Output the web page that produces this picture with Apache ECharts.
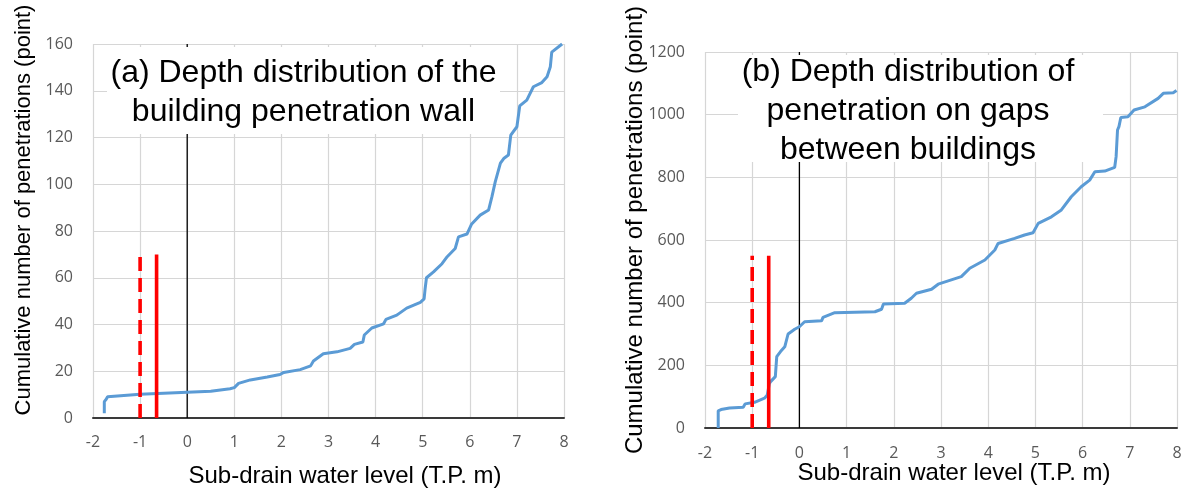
<!DOCTYPE html>
<html>
<head>
<meta charset="utf-8">
<script src="https://cdn.jsdelivr.net/npm/echarts@6/dist/echarts.min.js"></script>
<style>
html,body{margin:0;padding:0;background:#fff;}
#c{width:1185px;height:499px;}
</style>
</head>
<body>
<div id="c"></div>
<script>
// ---- data ----
const levelA = [-1.76,-1.76,-1.72,-1.69,-1.0,0,0.5,0.91,1.0,1.09,1.34,1.7,1.97,2.05,2.4,2.62,2.68,2.89,3.18,3.46,3.55,3.73,3.76,3.92,4.17,4.22,4.45,4.66,4.95,5.03,5.05,5.08,5.23,5.41,5.52,5.69,5.76,5.94,6.04,6.22,6.4,6.47,6.54,6.65,6.72,6.82,6.87,7.0,7.06,7.21,7.35,7.53,7.64,7.71,7.74,7.96];
const countA = [2,7,8,9.1,10.2,11,11.4,12.5,13,14.8,16.3,17.5,18.6,19.5,20.7,22.3,24.4,27.5,28.3,29.8,31.5,32.5,35.5,38.5,40.3,42.2,44,47,49.5,51,55,60,62.5,66,69,72.5,77.5,78.7,83,86.8,89,94.7,101,109,111,112.5,121,124.6,133.5,136,141.7,143.5,146,150.3,156.5,160];

const levelB = [-1.72,-1.72,-1.66,-1.48,-1.19,-1.15,-0.95,-0.74,-0.68,-0.64,-0.61,-0.51,-0.48,-0.4,-0.31,-0.24,-0.1,0,0.11,0.47,0.5,0.75,1.6,1.74,1.78,2.23,2.37,2.48,2.8,2.94,3.43,3.61,3.93,4.14,4.21,4.56,4.77,4.95,5.06,5.34,5.55,5.76,5.97,6.15,6.26,6.47,6.68,6.71,6.74,6.77,6.81,6.96,7.09,7.32,7.6,7.71,7.92,7.99];
const countB = [0,55,59,64,66,77,82,95,105,140,148,164,228,244,259,300,315,323,339,342,353,368,371,379,396,398,414,430,443,459,483,510,536,568,589,605,616,623,653,674,696,738,770,791,818,820,832,866,951,962,991,993,1015,1025,1052,1068,1070,1077];

const xRange = [-2, 8];
const yRangeA = [0, 160];
const yRangeB = [0, 1200];
const yStepA = 20;
const yStepB = 200;
const redLevels = [-1, -0.65];   // dashed, solid
const redTops = [70, 550];       // chart a, chart b

const titleA = ['(a) Depth distribution of the', 'building penetration wall'];
const titleB = ['(b) Depth distribution of', 'penetration on gaps', 'between buildings'];
const xTitle = 'Sub-drain water level (T.P. m)';
const yTitle = 'Cumulative number of penetrations (point)';

// ---- chart ----
const chart = echarts.init(document.getElementById('c'), null, {renderer: 'canvas'});
const pairs = (xs, ys) => xs.map((x, i) => [x, ys[i]]);
const tickFont = {color: '#595959', fontFamily: 'Open Sans', fontSize: 16, formatter: v => String(v)};

function xAx(gi, margin) {
  return {
    type: 'value', gridIndex: gi, min: xRange[0], max: xRange[1], interval: 1,
    axisLine: {show: true, onZero: false, lineStyle: {color: '#3a3a3a', width: 2}},
    axisTick: {show: false},
    axisLabel: Object.assign({margin: margin}, tickFont),
    splitLine: {show: true, lineStyle: {color: '#d6d6d6', width: 1.2}}
  };
}
function yAx(gi, rng, step) {
  return {
    type: 'value', gridIndex: gi, min: rng[0], max: rng[1], interval: step,
    axisLine: {show: false}, axisTick: {show: false},
    axisLabel: Object.assign({margin: 20}, tickFont),
    splitLine: {show: true, lineStyle: {color: '#d6d6d6', width: 1.2}}
  };
}
function vline(gi, x, top, color, width, type, z) {
  return {
    type: 'line', xAxisIndex: gi, yAxisIndex: gi, data: [[x, 0], [x, top]],
    showSymbol: false, silent: true, z: z, animation: false,
    lineStyle: {color: color, width: width, type: type}
  };
}

const series = [
  vline(0, 0, yRangeA[1], '#000', 1.3, 'solid', 2),
  vline(1, 0, yRangeB[1], '#000', 1.3, 'solid', 2),
  {type: 'line', xAxisIndex: 0, yAxisIndex: 0, data: pairs(levelA, countA), showSymbol: false, z: 3, animation: false,
   lineStyle: {color: '#5b9bd5', width: 3}},
  {type: 'line', xAxisIndex: 1, yAxisIndex: 1, data: pairs(levelB, countB), showSymbol: false, z: 3, animation: false,
   lineStyle: {color: '#5b9bd5', width: 3}},
  vline(0, redLevels[0], redTops[0], '#ff0000', 3.6, [14, 7], 4),
  vline(0, redLevels[1], redTops[0], '#ff0000', 3.6, 'solid', 4),
  vline(1, redLevels[0], redTops[1], '#ff0000', 3.6, [14, 7], 4),
  vline(1, redLevels[1], redTops[1], '#ff0000', 3.6, 'solid', 4)
];

function box(x, y, w, h, cx, cy, lines) {
  return [
    {type: 'rect', z: 100, shape: {x: x, y: y, width: w, height: h}, style: {fill: '#fff'}},
    {type: 'text', z: 101, x: cx, y: cy, style: {text: lines.join('\n'), fill: '#000',
      font: '32px "Liberation Sans", Arial, sans-serif', lineHeight: 39, align: 'center', verticalAlign: 'middle'}}
  ];
}
function label(x, y, text, size, rot) {
  return {type: 'text', z: 101, x: x, y: y, rotation: rot || 0,
    style: {text: text, fill: '#000', font: size + 'px "Liberation Sans", Arial, sans-serif', align: 'center', verticalAlign: 'middle'}};
}

const graphic = [].concat(
  box(107, 47, 393, 87, 303.5, 92.5, titleA),
  box(738, 55, 365, 107, 908, 111, titleB),
  [label(345, 476, xTitle, 24), label(954, 473, xTitle, 24),
   label(24, 210, yTitle, 22, Math.PI / 2), label(635, 230, yTitle, 24, Math.PI / 2)]
);

chart.setOption({
  animation: false,
  backgroundColor: '#fff',
  grid: [
    {left: 93, top: 44, width: 471, height: 374, outerBoundsMode: 'none'},
    {left: 705, top: 52, width: 472, height: 376, outerBoundsMode: 'none'}
  ],
  xAxis: [xAx(0, 16), xAx(1, 17)],
  yAxis: [yAx(0, yRangeA, yStepA), yAx(1, yRangeB, yStepB)],
  series: series,
  graphic: graphic
});
</script>
</body>
</html>
